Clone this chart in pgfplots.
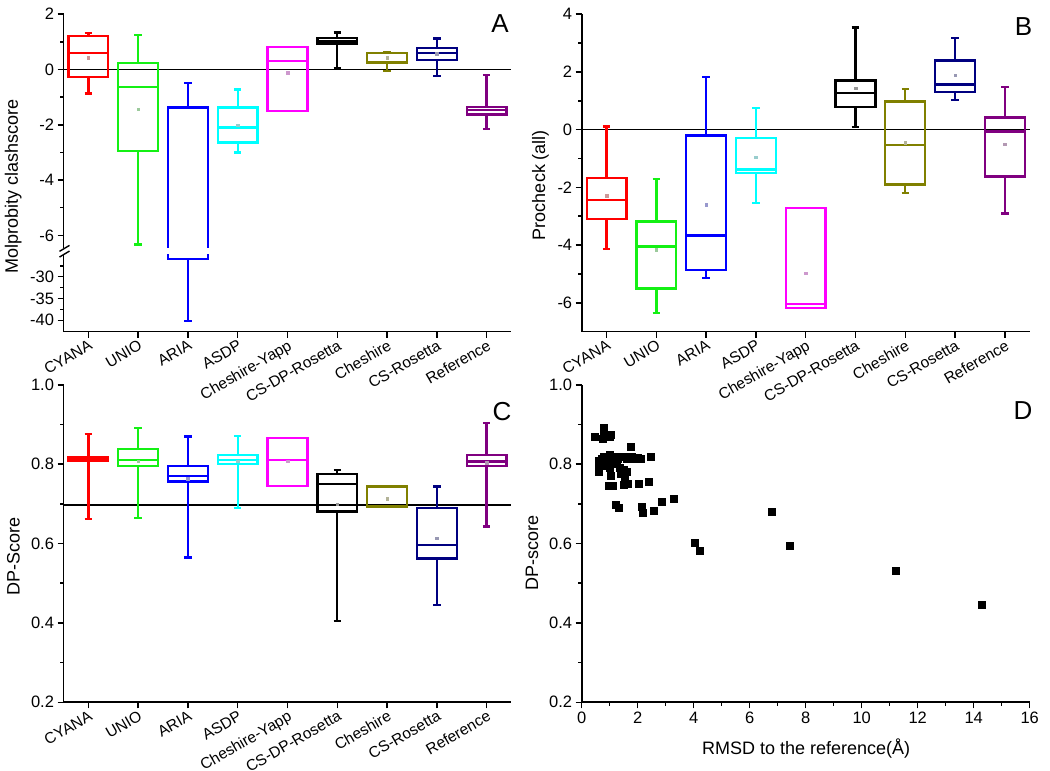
\documentclass[border=0pt]{standalone}
\usepackage{fontspec}
\setmainfont{Liberation Sans}
\usepackage{pgfplots}
\usepgfplotslibrary{statistics}
\pgfplotsset{compat=1.18}
\definecolor{oRed}{RGB}{255,0,0}
\definecolor{oGreen}{RGB}{20,240,20}
\definecolor{oBlue}{RGB}{0,0,255}
\definecolor{oCyan}{RGB}{0,255,255}
\definecolor{oMag}{RGB}{255,0,255}
\definecolor{oOlive}{RGB}{128,128,0}
\definecolor{oNavy}{RGB}{0,0,128}
\definecolor{oPurple}{RGB}{128,0,128}
\tikzset{letter/.style={anchor=north east, inner sep=0pt, font=\fontsize{26}{26}\selectfont}}
\pgfplotsset{
  panel/.style={scale only axis, width=448pt, height=317.5pt,
    axis lines=left, axis line style={-, line width=1.6pt},
    tick align=outside, major tick length=6pt, minor tick length=3.5pt,
    tick style={black, line width=1.5pt},
    tick label style={font=\fontsize{16.5}{18}\selectfont},
    label style={font=\fontsize{18}{20}\selectfont},
    /pgf/number format/assume math mode=true, clip=false},
  cat/.style={xmin=-0.5, xmax=8.5, xtick={0,1,2,3,4,5,6,7,8},
    xticklabels={CYANA,UNIO,ARIA,ASDP,Cheshire-Yapp,CS-DP-Rosetta,Cheshire,CS-Rosetta,Reference},
    xticklabel style={rotate=30, anchor=north east, inner sep=1pt, font=\fontsize{15.5}{17}\selectfont}},
  bx/.style={solid, line width=2.3pt, fill=none, boxplot/draw direction=y, boxplot/box extend=0.8, boxplot/whisker extend=0.15},
  mn/.style={only marks, mark=square*, mark size=1.3pt, color=#1!35!gray!60!white},
}
% box: colour, position, lower whisker, lower quartile, median, upper quartile, upper whisker
\newcommand{\bx}[7]{\addplot[draw=#1, bx, boxplot prepared={draw position=#2, lower whisker=#3, lower quartile=#4, median=#5, upper quartile=#6, upper whisker=#7}] coordinates {};}
\begin{document}
\begin{tikzpicture}
\path[use as bounding box] (0pt,0pt) rectangle (1050pt,771pt);
% ---------------- Panel A (broken axis: lower segment -25.7..-42.6 compressed) ----
\begin{axis}[panel, cat, at={(63.5pt,439.3pt)}, anchor=south west,
  ymin=-9.483, ymax=2,
  ytick={-9.071,-8.283,-7.495,-6,-4,-2,0,2},
  yticklabels={-40,-35,-30,-6,-4,-2,0,2},
  minor ytick={-8.677,-7.889,-7.101,-5,-3,-1,1},
  ylabel={Molprobity clashscore},
  ylabel style={at={(axis description cs:-0.112,0.456)}, anchor=center}]
\addplot[black, line width=1.2pt] coordinates {(-0.5,0) (8.5,0)};
\bx{oRed}{0}{-0.87}{-0.27}{0.60}{1.20}{1.31}
\bx{oGreen}{1}{-6.33}{-2.95}{-0.63}{0.24}{1.24}
\bx{oBlue}{2}{-9.10}{-6.86}{-6.58}{-1.37}{-0.48}
\bx{oCyan}{3}{-3.00}{-2.64}{-2.10}{-1.37}{-0.72}
\bx{oMag}{4}{-1.51}{-1.51}{0.30}{0.82}{0.82}
\bx{black}{5}{0.05}{0.94}{1.03}{1.14}{1.34}
\bx{oOlive}{6}{-0.05}{0.25}{0.27}{0.60}{0.64}
\bx{oNavy}{7}{-0.24}{0.34}{0.60}{0.78}{1.12}
\bx{oPurple}{8}{-2.15}{-1.63}{-1.47}{-1.35}{-0.21}
\addplot[mn=oRed] coordinates {(0,0.43)};
\addplot[mn=oGreen] coordinates {(1,-1.43)};
\addplot[mn=oCyan] coordinates {(3,-2.01)};
\addplot[mn=oMag] coordinates {(4,-0.12)};
\addplot[mn=oNavy] coordinates {(7,0.57)};
\addplot[mn=oOlive] coordinates {(6,0.43)};
\fill[white] (axis cs:-0.62,-6.47) rectangle (axis cs:8.6,-6.675);
\draw[line width=1.4pt] ([shift={(-4pt,-3pt)}]axis cs:-0.5,-6.47) -- ([shift={(6pt,3pt)}]axis cs:-0.5,-6.47);
\draw[line width=1.4pt] ([shift={(-4pt,-3pt)}]axis cs:-0.5,-6.675) -- ([shift={(6pt,3pt)}]axis cs:-0.5,-6.675);
\node[letter] at ([shift={(-2.7pt,-0.7pt)}]rel axis cs:1,1) {A};
\end{axis}
% ---------------- Panel B ----------------
\begin{axis}[panel, cat, at={(581.7pt,439.3pt)}, anchor=south west,
  ymin=-7, ymax=4, ytick={-6,-4,-2,0,2,4}, minor ytick={-5,-3,-1,1,3},
  ylabel={Procheck (all)},
  ylabel style={at={(axis description cs:-0.092,0.462)}, anchor=center}]
\addplot[black, line width=1.2pt] coordinates {(-0.5,0) (8.5,0)};
\bx{oRed}{0}{-4.14}{-3.09}{-2.43}{-1.68}{0.11}
\bx{oGreen}{1}{-6.36}{-5.50}{-4.05}{-3.18}{-1.72}
\bx{oBlue}{2}{-5.15}{-4.86}{-3.67}{-0.20}{1.83}
\bx{oCyan}{3}{-2.55}{-1.49}{-1.38}{-0.29}{0.76}
\bx{oMag}{4}{-6.18}{-6.18}{-6.04}{-2.72}{-2.72}
\bx{black}{5}{0.08}{0.79}{1.26}{1.70}{3.54}
\bx{oOlive}{6}{-2.20}{-1.90}{-0.53}{0.97}{1.41}
\bx{oNavy}{7}{1.02}{1.30}{1.56}{2.40}{3.18}
\bx{oPurple}{8}{-2.91}{-1.62}{-0.06}{0.42}{1.48}
\addplot[mn=oRed] coordinates {(0,-2.28)};
\addplot[mn=oGreen] coordinates {(1,-4.16)};
\addplot[mn=oBlue] coordinates {(2,-2.59)};
\addplot[mn=oCyan] coordinates {(3,-0.95)};
\addplot[mn=oMag] coordinates {(4,-4.97)};
\addplot[mn=black] coordinates {(5,1.43)};
\addplot[mn=oOlive] coordinates {(6,-0.46)};
\addplot[mn=oNavy] coordinates {(7,1.89)};
\addplot[mn=oPurple] coordinates {(8,-0.51)};
\node[letter] at ([shift={(2.7pt,-3pt)}]rel axis cs:1,1) {B};
\end{axis}
% ---------------- Panel C ----------------
\begin{axis}[panel, cat, at={(63.5pt,68.7pt)}, anchor=south west,
  ymin=0.2, ymax=1.0, ytick={0.2,0.4,0.6,0.8,1.0}, minor ytick={0.3,0.5,0.7,0.9},
  yticklabel style={/pgf/number format/.cd, fixed, fixed zerofill, precision=1},
  ylabel={DP-Score},
  ylabel style={at={(axis description cs:-0.112,0.458)}, anchor=center}]
\addplot[black, line width=1.2pt] coordinates {(-0.5,0.697) (8.5,0.697)};
\bx{oRed}{0}{0.662}{0.808}{0.812}{0.818}{0.876}
\bx{oGreen}{1}{0.665}{0.796}{0.811}{0.838}{0.892}
\bx{oBlue}{2}{0.565}{0.756}{0.771}{0.796}{0.870}
\bx{oCyan}{3}{0.689}{0.801}{0.810}{0.824}{0.871}
\bx{oMag}{4}{0.745}{0.745}{0.811}{0.866}{0.866}
\bx{black}{5}{0.405}{0.681}{0.750}{0.776}{0.786}
\bx{oOlive}{6}{0.692}{0.692}{0.693}{0.744}{0.744}
\bx{oNavy}{7}{0.445}{0.562}{0.596}{0.689}{0.744}
\bx{oPurple}{8}{0.643}{0.796}{0.807}{0.824}{0.903}
\addplot[mn=oGreen] coordinates {(1,0.807)};
\addplot[mn=oBlue] coordinates {(2,0.764)};
\addplot[mn=oCyan] coordinates {(3,0.808)};
\addplot[mn=oMag] coordinates {(4,0.807)};
\addplot[mn=black] coordinates {(5,0.699)};
\addplot[mn=oOlive] coordinates {(6,0.713)};
\addplot[mn=oNavy] coordinates {(7,0.613)};
\addplot[mn=oPurple] coordinates {(8,0.804)};
\node[letter] at ([shift={(0pt,-17pt)}]rel axis cs:1,1) {C};
\end{axis}
% ---------------- Panel D ----------------
\begin{axis}[panel, at={(581.7pt,68.7pt)}, anchor=south west,
  xmin=0, xmax=16, xtick={0,2,...,16}, minor xtick={1,3,...,15},
  ymin=0.2, ymax=1.0, ytick={0.2,0.4,0.6,0.8,1.0}, minor ytick={0.3,0.5,0.7,0.9},
  yticklabel style={/pgf/number format/.cd, fixed, fixed zerofill, precision=1},
  xlabel={RMSD to the reference(Å)},
  xlabel style={at={(axis description cs:0.501,-0.147)}, anchor=center},
  ylabel={DP-score},
  ylabel style={at={(axis description cs:-0.111,0.47)}, anchor=center}]
\addplot[only marks, mark=square*, mark size=3.5pt, black] coordinates {
(0.48,0.870) (0.78,0.892) (0.80,0.878) (0.75,0.865) (1.00,0.870) (1.02,0.875)
(1.76,0.845)
(0.60,0.810) (0.62,0.800) (0.60,0.790) (0.62,0.780) (0.70,0.815) (0.80,0.820)
(0.85,0.805) (0.90,0.795) (1.00,0.825) (1.05,0.815) (1.10,0.808) (1.00,0.790)
(1.05,0.770) (1.20,0.820) (1.30,0.815) (1.40,0.818) (1.50,0.820) (1.60,0.815)
(1.70,0.815) (1.80,0.818) (1.90,0.815) (2.00,0.816) (2.10,0.815) (2.48,0.819)
(1.25,0.800) (1.35,0.790) (1.50,0.785) (1.60,0.780) (1.40,0.775) (1.55,0.760)
(1.50,0.748) (1.65,0.750) (0.95,0.745) (1.10,0.745) (2.03,0.750) (2.38,0.756)
(1.23,0.697) (1.31,0.691) (2.14,0.692) (2.17,0.678) (2.56,0.683) (2.85,0.705)
(3.28,0.712) (4.02,0.603) (4.21,0.583) (6.77,0.681) (7.43,0.595) (11.20,0.531)
(14.28,0.445)};
\node[letter] at ([shift={(3pt,-17pt)}]rel axis cs:1,1) {D};
\end{axis}
\end{tikzpicture}
\end{document}
